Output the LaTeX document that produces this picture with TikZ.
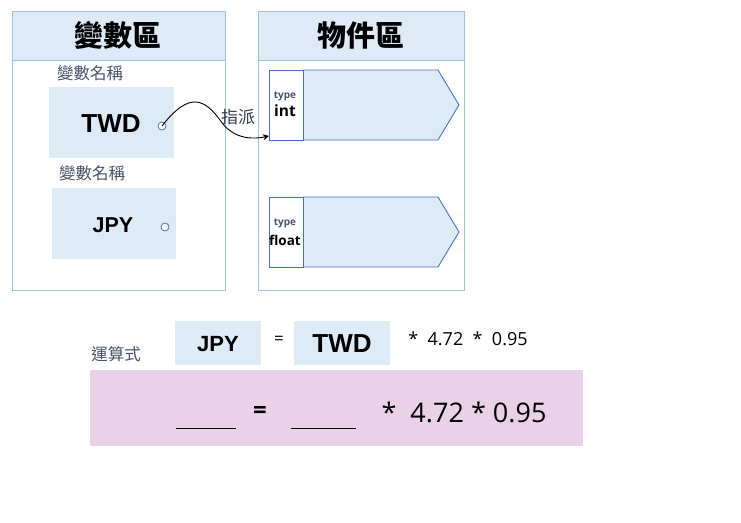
\documentclass[tikz,border=0pt]{standalone}
\usepackage{fontspec}
\setmainfont{Noto Sans CJK TC}
\newfontfamily\arialf{Liberation Sans}
\newfontfamily\segf{Open Sans}
\usetikzlibrary{arrows.meta}
\definecolor{hdrfill}{HTML}{DEEAF6}
\definecolor{panelline}{HTML}{9DC3E6}
\definecolor{boxfill}{HTML}{DDEBF7}
\definecolor{objline}{HTML}{4472C4}
\definecolor{labelgray}{HTML}{44546A}
\definecolor{pinkfill}{HTML}{EAD1E8}
\tikzset{
  panel/.style={draw=panelline, line width=0.8pt},
  hdr/.style={draw=panelline, fill=hdrfill, line width=0.8pt},
  varbox/.style={fill=boxfill},
  smalllbl/.style={text=labelgray, font=\fontsize{16.5}{18}\selectfont},
  twdtxt/.style={font=\arialf\bfseries\fontsize{26}{30}\selectfont},
  jpytxt/.style={font=\arialf\bfseries\fontsize{21.5}{26}\selectfont},
  port/.style={circle, draw=objline, fill=white, line width=0.8pt, minimum size=8pt, inner sep=0pt},
  objline/.style={draw=objline, line width=0.9pt},
}
\begin{document}
\begin{tikzpicture}[x=1pt,y=-1pt]
\useasboundingbox (0,0) rectangle (741,522);
% left panel
\draw[panel] (12,11) rectangle (225,290);
\draw[hdr] (12,11) rectangle (225,60);
\node (lt) at (118,35) {\bfseries\fontsize{29}{32}\selectfont 變數區};
% right panel
\draw[panel] (258,11) rectangle (464,290);
\draw[hdr] (258,11) rectangle (464,60);
\node (rt) at (361,35) {\bfseries\fontsize{29}{32}\selectfont 物件區};
% variable boxes
\node[smalllbl] (l1) at (90,73) {變數名稱};
\fill[varbox] (49,87) rectangle (174,158);
\node[twdtxt] (twd) at (111,124) {TWD};
\node[port] (p1) at (162,126) {};
\node[smalllbl] (l2) at (92,173) {變數名稱};
\fill[varbox] (52,188) rectangle (176,259);
\node[jpytxt] (jpy) at (113,225) {JPY};
\node[port] (p2) at (165,227) {};
% objects
\filldraw[objline, fill=boxfill] (303,70) -- (438,70) -- (459,105) -- (438,140) -- (303,140) -- cycle;
\filldraw[objline, fill=white] (269,70) rectangle (303,140);
\node[text=labelgray, font=\segf\bfseries\fontsize{10}{11}\selectfont] (t1) at (285,96) {type};
\node[font=\segf\bfseries\fontsize{15.5}{17}\selectfont] (int) at (285,111) {int};
\coordinate (intin) at (269,136);
\filldraw[objline, fill=boxfill] (303,197) -- (438,197) -- (459,232) -- (438,267) -- (303,267) -- cycle;
\filldraw[objline, fill=white] (269,197) rectangle (303,267);
\node[text=labelgray, font=\segf\bfseries\fontsize{10}{11}\selectfont] (t2) at (285,223) {type};
\node[font=\segf\bfseries\fontsize{13.5}{16}\selectfont] (flt) at (285,240) {float};
% connector
\draw[line width=0.9pt, -{Stealth[length=6pt,width=6pt]}] (p1.center) .. controls (190,90) and (205,100) .. (220,120) .. controls (232,138) and (250,140) .. (intin);
\node[font=\fontsize{17}{18}\selectfont, text=labelgray!70!black] (zp) at (238,117) {指派};
% expression
\node[smalllbl] (ys) at (116,354) {運算式};
\fill[varbox] (175,321) rectangle (261,365);
\node[font=\arialf\bfseries\fontsize{22}{26}\selectfont] (jpy2) at (218,344) {JPY};
\node[font=\segf\fontsize{17}{18}\selectfont] (eq1) at (279,340) {=};
\fill[varbox] (294,321) rectangle (390,365);
\node[font=\arialf\bfseries\fontsize{26}{30}\selectfont] (twd2) at (342,344) {TWD};
\node[font=\segf\fontsize{18}{20}\selectfont] (m1) at (468,339) {*\ \ 4.72\ \ *\ \ 0.95};
% pink box
\fill[pinkfill] (90,370) rectangle (583,446);
\draw[line width=1pt] (176,428) -- (236,428);
\draw[line width=1pt] (291,428) -- (356,428);
\node[font=\segf\bfseries\fontsize{24}{28}\selectfont] (eq2) at (260,412) {=};
\node[font=\segf\fontsize{27}{30}\selectfont] (m2) at (464,412) {*\ \ 4.72 * 0.95};
\end{tikzpicture}
\end{document}
